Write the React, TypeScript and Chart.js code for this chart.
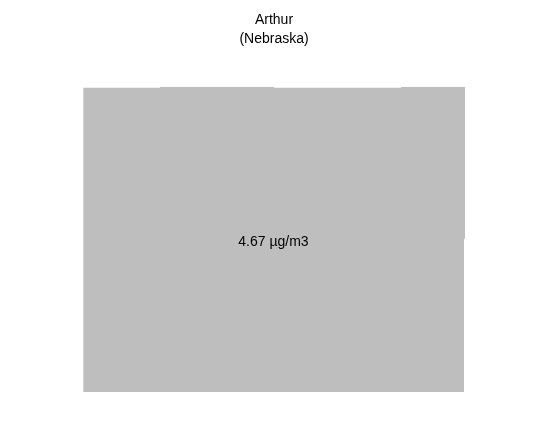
import React, { useEffect, useRef } from "react";
import { Chart, registerables } from "chart.js";

Chart.register(...registerables);

const titleLines = ["Arthur", "(Nebraska)"];
const valueLabel = "4.67 µg/m3";
const fillColor = "#bebebe";

// County outline (longitude, latitude)
const outlineLon = [
  -101.989, -101.8714, -101.8714, -101.6974, -101.6974, -101.5035, -101.5035,
  -101.4058, -101.4058, -101.4073, -101.4073, -101.9875, -101.9875, -101.989, -101.989,
];
const outlineLat = [
  41.7424, 41.7424, 41.7435, 41.7435, 41.7424, 41.7424, 41.7435,
  41.7435, 41.5694, 41.5694, 41.3946, 41.3946, 41.5694, 41.5694, 41.7424,
];
const labelLon = -101.6982;
const labelLat = 41.5661;

const lonMin = -101.989;
const lonMax = -101.4058;
const latMin = 41.3946;
const latMax = 41.7435;

export default function App() {
  const ref = useRef<HTMLCanvasElement | null>(null);
  useEffect(() => {
    document.body.style.margin = "0";
    const canvas = ref.current;
    if (!canvas) return;
    const points = outlineLon.map((x, i) => ({ x, y: outlineLat[i] }));
    const labelPlugin = {
      id: "valueLabel",
      afterDatasetsDraw(chart: any) {
        const { ctx, scales } = chart;
        const px = scales.x.getPixelForValue(labelLon);
        const py = scales.y.getPixelForValue(labelLat);
        ctx.save();
        ctx.font = "14px 'Liberation Sans', Arial, sans-serif";
        ctx.fillStyle = "#000000";
        ctx.textAlign = "center";
        ctx.textBaseline = "middle";
        ctx.fillText(valueLabel, px, py);
        ctx.restore();
      },
    };
    const chart = new Chart(canvas, {
      type: "scatter",
      data: {
        datasets: [
          {
            data: points,
            showLine: true,
            fill: "shape" as any,
            backgroundColor: fillColor,
            borderColor: fillColor,
            borderWidth: 0,
            pointRadius: 0,
            tension: 0,
            clip: false as any,
          } as any,
        ],
      },
      options: {
        animation: false,
        responsive: true,
        maintainAspectRatio: false,
        layout: { padding: { left: 83, right: 83, top: 0, bottom: 46 } },
        scales: {
          x: { type: "linear", min: lonMin, max: lonMax, display: false },
          y: { type: "linear", min: latMin, max: latMax, display: false },
        },
        plugins: {
          legend: { display: false },
          tooltip: { enabled: false },
          title: {
            display: true,
            text: titleLines,
            color: "#000000",
            font: { family: "'Liberation Sans', Arial, sans-serif", size: 14, weight: "normal", lineHeight: 19 / 14 },
            padding: { top: 11, bottom: 37.7 },
          },
        },
      },
      plugins: [labelPlugin],
    });
    return () => chart.destroy();
  }, []);
  return (
    <div style={{ position: "relative", width: 548, height: 438 }}>
      <canvas ref={ref} />
    </div>
  );
}
